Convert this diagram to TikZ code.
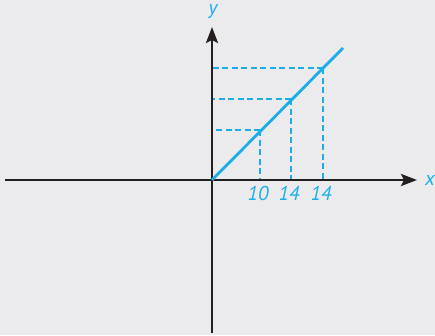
\documentclass[tikz,border=0pt]{standalone}
\usepackage{fontspec}
\setmainfont{PT Sans}
\usetikzlibrary{arrows.meta}
\usetikzlibrary{positioning, calc}

\begin{document}
\begin{tikzpicture}[x=1pt,y=1pt]
  \tikzstyle{axis}=[draw=axiscol,line width=2.5pt,-{Stealth[length=16pt,width=12pt,inset=3pt]}]
  \tikzstyle{graph}=[draw=linecol,line width=2.8pt]
  \tikzstyle{guide}=[draw=linecol,line width=2.4pt,dash pattern=on 6pt off 3.5pt]
  \tikzstyle{lbl}=[text=linecol,font=\fontsize{20}{24}\selectfont\itshape,inner sep=1pt]
  \definecolor{axiscol}{HTML}{231F20}
  \definecolor{linecol}{HTML}{1AADE8}
  \definecolor{bgcol}{HTML}{EBEBED}

  % BACKGROUND
  \fill[bgcol] (-212,-155) rectangle (223,180);
  \useasboundingbox (-212,-155) rectangle (223,180);

  \coordinate (O) at (0,0);
  \coordinate (xl) at (-207,0);
  \coordinate (xr) at (205,0);
  \coordinate (yb) at (0,-153);
  \coordinate (yt) at (0,153);
  \coordinate (end) at (131,132);

  % GUIDES
  \foreach \i/\px/\py/\t in {1/48/50/10,2/79/81/14,3/111/112/14}{
      \coordinate (P\i) at (\px,\py);
      \draw[guide] (P\i) -- (P\i |- O);
      \draw[guide] (P\i) -- (P\i -| O);
      \node[lbl,anchor=north] (t\i) at ($(P\i |- O)+(-2,-5)$) {\t};
    }

  % AXES
  \draw[axis] (xl) -- (xr);
  \draw[axis] (yb) -- (yt);
  \node[lbl] (xlab) at (218,0) {x};
  \node[lbl] (ylab) at (1,168) {y};

  % LINE
  \draw[graph] (O) -- (end);
\end{tikzpicture}
\end{document}
